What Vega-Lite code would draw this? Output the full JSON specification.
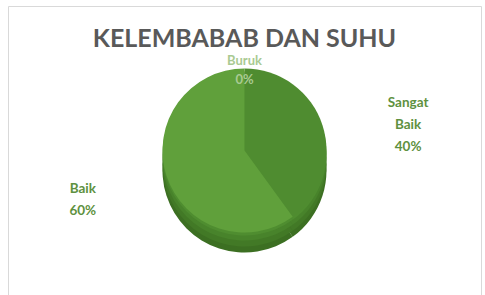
{
  "$schema": "https://vega.github.io/schema/vega-lite/v6.json",
  "autosize": {"type": "fit", "contains": "padding"},
  "width": 485,
  "height": 295,
  "padding": {"left": 8, "top": 6, "right": 4, "bottom": 0},
  "background": "#ffffff",
  "view": {"stroke": "#d9d9d9", "strokeWidth": 1, "fill": "#ffffff"},
  "title": {
    "text": "KELEMBABAB DAN SUHU",
    "font": "Lato",
    "fontSize": 25,
    "fontWeight": "bold",
    "color": "#595959",
    "anchor": "middle",
    "frame": "group",
    "offset": -46
  },
  "data": {
    "values": [
      {"kategori": "Buruk", "nilai": 0, "teks": "Buruk\n0%"},
      {"kategori": "Sangat Baik", "nilai": 40, "teks": "Sangat\nBaik\n40%"},
      {"kategori": "Baik", "nilai": 60, "teks": "Baik\n60%"}
    ]
  },
  "transform": [
    {"stack": "nilai", "groupby": [], "sort": [{"field": "nilai", "order": "ascending"}], "as": ["t0", "t1"]},
    {"calculate": "(datum.t0 + datum.t1) / 2", "as": "tengah"}
  ],
  "layer": [
    {
      "mark": {"type": "arc", "radius": 82, "yOffset": 20},
      "encoding": {
        "theta": {"field": "t0", "type": "quantitative", "scale": {"domain": [0, 100]}},
        "theta2": {"field": "t1"},
        "color": {"value": "#3c6f22"}
      }
    },
    {
      "mark": {"type": "arc", "radius": 82, "yOffset": 14},
      "encoding": {
        "theta": {"field": "t0", "type": "quantitative", "scale": {"domain": [0, 100]}},
        "theta2": {"field": "t1"},
        "color": {"value": "#427926"}
      }
    },
    {
      "mark": {"type": "arc", "radius": 82, "yOffset": 8},
      "encoding": {
        "theta": {"field": "t0", "type": "quantitative", "scale": {"domain": [0, 100]}},
        "theta2": {"field": "t1"},
        "color": {"value": "#48832b"}
      }
    },
    {
      "mark": {"type": "arc", "radius": 82, "yOffset": 3},
      "encoding": {
        "theta": {"field": "t0", "type": "quantitative", "scale": {"domain": [0, 100]}},
        "theta2": {"field": "t1"},
        "color": {"value": "#4f8d30"}
      }
    },
    {
      "mark": {"type": "arc", "radius": 82},
      "encoding": {
        "theta": {"field": "t0", "type": "quantitative", "scale": {"domain": [0, 100]}},
        "theta2": {"field": "t1"},
        "color": {
          "field": "kategori",
          "type": "nominal",
          "scale": {"domain": ["Buruk", "Sangat Baik", "Baik"], "range": ["#8fbf6c", "#4f8c30", "#60a03b"]},
          "legend": null
        }
      }
    },
    {
      "transform": [{"filter": "datum.kategori === 'Buruk'"}],
      "mark": {"type": "text", "radius": 90, "font": "Lato", "fontSize": 13, "fontWeight": "bold", "lineBreak": "\n", "lineHeight": 19, "align": "center", "baseline": "middle", "color": "#a9ca92"},
      "encoding": {
        "theta": {"field": "tengah", "type": "quantitative", "scale": {"domain": [0, 100]}},
        "text": {"field": "teks"}
      }
    },
    {
      "transform": [{"filter": "datum.kategori === 'Sangat Baik'"}],
      "mark": {"type": "text", "radius": 172, "dy": 6, "font": "Lato", "fontSize": 13.5, "fontWeight": "bold", "lineBreak": "\n", "lineHeight": 22, "align": "center", "baseline": "middle", "color": "#5e9140"},
      "encoding": {
        "theta": {"field": "tengah", "type": "quantitative", "scale": {"domain": [0, 100]}},
        "text": {"field": "teks"}
      }
    },
    {
      "transform": [{"filter": "datum.kategori === 'Baik'"}],
      "mark": {"type": "text", "radius": 170, "dy": -14, "font": "Lato", "fontSize": 13.5, "fontWeight": "bold", "lineBreak": "\n", "lineHeight": 22, "align": "center", "baseline": "middle", "color": "#5e9140"},
      "encoding": {
        "theta": {"field": "tengah", "type": "quantitative", "scale": {"domain": [0, 100]}},
        "text": {"field": "teks"}
      }
    }
  ]
}
